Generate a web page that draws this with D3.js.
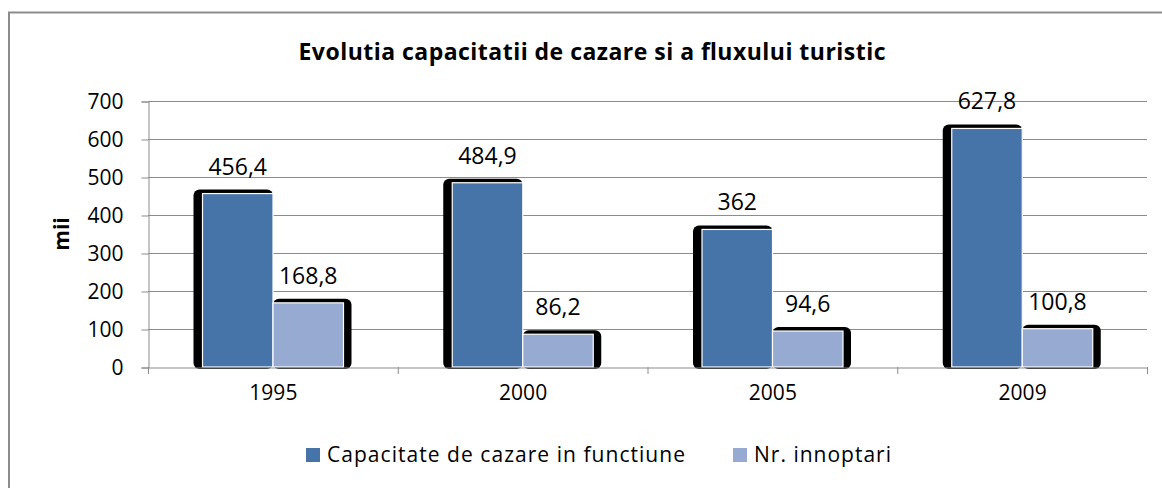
<!DOCTYPE html>
<html>
<head>
<meta charset="utf-8">
<script src="https://cdn.jsdelivr.net/npm/d3@7"></script>
<style>
  body { margin: 0; background: #fff; }
  text { font-family: "Open Sans", sans-serif; }
</style>
</head>
<body>
<div id="chart"></div>
<script>
const years = ["1995", "2000", "2005", "2009"];
const seriesNames = ["Capacitate de cazare in functiune", "Nr. innoptari"];
const capacitate = [456.4, 484.9, 362, 627.8];
const innoptari = [168.8, 86.2, 94.6, 100.8];
const yTicks = [0, 100, 200, 300, 400, 500, 600, 700];
const colors = ["#4674A9", "#97AAD1"];

const width = 1162, height = 488;
const plot = { left: 148, right: 1147, top: 101, bottom: 367 };

const svg = d3.select("#chart").append("svg")
  .attr("width", width)
  .attr("height", height);

// outer frame (right and bottom edges fall outside the picture)
svg.append("rect")
  .attr("x", 9).attr("y", 12.5)
  .attr("width", 1170).attr("height", 490)
  .attr("fill", "#fff")
  .attr("stroke", "#8c8c8c")
  .attr("stroke-width", 2);

const x0 = d3.scaleBand().domain(years).range([plot.left, plot.right]);
const x1 = d3.scaleBand().domain(seriesNames).range([54.5, 195.5]);
const y = d3.scaleLinear().domain([0, 700]).range([plot.bottom, plot.top]);

// gridlines
svg.append("g")
  .selectAll("line")
  .data(yTicks.slice(1))
  .enter()
  .append("line")
  .attr("x1", plot.left).attr("x2", plot.right)
  .attr("y1", d => Math.round(y(d)) + 0.5)
  .attr("y2", d => Math.round(y(d)) + 0.5)
  .attr("stroke", "#8c8c8c");

// y axis
const yAxis = svg.append("g")
  .attr("transform", `translate(${plot.left + 0.5},0.5)`)
  .call(d3.axisLeft(y).tickValues(yTicks).tickSize(7).tickPadding(18));
yAxis.select(".domain").attr("stroke", "#8c8c8c");
yAxis.selectAll(".tick line").attr("stroke", "#8c8c8c");
yAxis.selectAll(".tick text")
  .attr("font-size", 21)
  .attr("font-family", "'Open Sans', sans-serif")
  .attr("fill", "#000");

svg.append("text")
  .attr("transform", `translate(69,${(plot.top + plot.bottom) / 2}) rotate(-90)`)
  .attr("text-anchor", "middle")
  .attr("font-size", 21)
  .attr("font-weight", "bold")
  .text("mii");

// bars
const rows = years.map((yr, i) => ({ year: yr, values: [capacitate[i], innoptari[i]] }));
const groups = svg.append("g")
  .selectAll("g")
  .data(rows)
  .enter()
  .append("g")
  .attr("transform", d => `translate(${x0(d.year)},0)`);

const bars = d => d.values.map((v, j) => ({ name: seriesNames[j], value: v, j }));

// black shadows behind bars
groups.selectAll("rect.shadow")
  .data(bars)
  .enter()
  .append("rect")
  .attr("class", "shadow")
  .attr("x", d => x1(d.name) - (d.j === 0 ? 9 : 0))
  .attr("y", d => y(d.value) - 4)
  .attr("width", d => x1.bandwidth() + (d.j === 0 ? 9 : 8))
  .attr("height", d => plot.bottom + 2 - y(d.value) + 4)
  .attr("rx", 6)
  .attr("fill", "#000");

groups.selectAll("rect.bar")
  .data(bars)
  .enter()
  .append("rect")
  .attr("class", "bar")
  .attr("x", d => x1(d.name))
  .attr("y", d => y(d.value))
  .attr("width", x1.bandwidth())
  .attr("height", d => plot.bottom - y(d.value))
  .attr("fill", d => colors[d.j])
  .attr("stroke", "#fff")
  .attr("stroke-width", 1.2);

groups.selectAll("text.lbl")
  .data(bars)
  .enter()
  .append("text")
  .attr("class", "lbl")
  .attr("x", d => x1(d.name) + x1.bandwidth() / 2)
  .attr("y", d => y(d.value) - 19)
  .attr("text-anchor", "middle")
  .attr("font-size", 23)
  .text(d => String(d.value).replace(".", ","));

// x axis
const xAxis = svg.append("g")
  .attr("transform", `translate(0.5,${plot.bottom + 0.5})`)
  .call(d3.axisBottom(x0).tickSize(0).tickPadding(18));
xAxis.select(".domain").attr("stroke", "#8c8c8c");
xAxis.selectAll(".tick text")
  .attr("font-size", 21)
  .attr("font-family", "'Open Sans', sans-serif")
  .attr("fill", "#000");
svg.append("g")
  .selectAll("line")
  .data(years.concat(["end"]))
  .enter()
  .append("line")
  .attr("x1", (d, i) => plot.left + i * x0.step() + 0.5)
  .attr("x2", (d, i) => plot.left + i * x0.step() + 0.5)
  .attr("y1", plot.bottom)
  .attr("y2", plot.bottom + 7)
  .attr("stroke", "#8c8c8c");

// title
svg.append("text")
  .attr("x", 592).attr("y", 60)
  .attr("text-anchor", "middle")
  .attr("font-size", 23)
  .attr("font-weight", "bold")
  .attr("textLength", 587)
  .text("Evolutia capacitatii de cazare si a fluxului turistic");

// legend
const legendX = [306, 733];
const legendW = [358, 137];
const legend = svg.append("g")
  .selectAll("g")
  .data(seriesNames)
  .enter()
  .append("g")
  .attr("transform", (d, i) => `translate(${legendX[i]},462)`);
legend.append("rect")
  .attr("x", 0).attr("y", -14)
  .attr("width", 14).attr("height", 14)
  .attr("fill", (d, i) => colors[i]);
legend.append("text")
  .attr("x", 21).attr("y", 0)
  .attr("font-size", 21)
  .attr("textLength", (d, i) => legendW[i])
  .text(d => d);
</script>
</body>
</html>
